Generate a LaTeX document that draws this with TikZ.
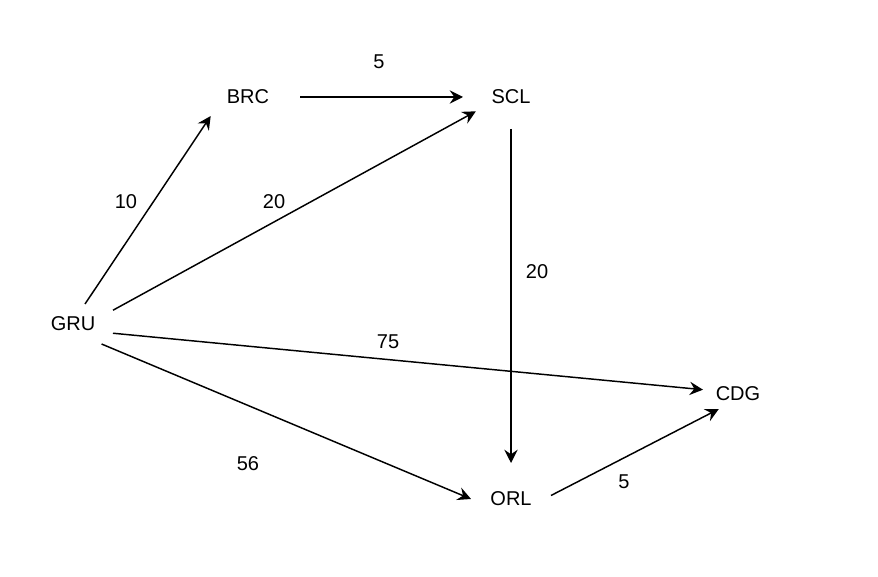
\documentclass[tikz,border=0pt]{standalone}
\usepackage{fontspec}
\setmainfont{Liberation Sans}
\usetikzlibrary{arrows.meta}
\tikzset{flightmap/.style={
  font=\fontsize{15}{17}\selectfont,
  airport/.style={draw=none, inner sep=0pt, outer sep=0pt},
  route/.style={-{Stealth[length=10pt, width=10pt, inset=3.5pt]}, line width=1.1pt},
  cost/.style={inner sep=1pt},
}}

\begin{document}
\begin{tikzpicture}[flightmap, x=0.75pt, y=-0.75pt]
\useasboundingbox (0,0) rectangle (878,577);
% =====================================================================
%  airports
% =====================================================================
\node[airport, minimum width=60pt, minimum height=30pt]   (GRU) at (73,324)  {GRU};
\node[airport, minimum width=78pt, minimum height=28.5pt] (BRC) at (248,97)  {BRC};
\node[airport, minimum width=72pt, minimum height=48pt]   (SCL) at (511,97)  {SCL};
\node[airport, minimum width=60pt, minimum height=54pt]   (ORL) at (511,499) {ORL};
\node[airport, minimum width=52.5pt, minimum height=22.5pt] (CDG) at (738,394) {CDG};

% =====================================================================
%  routes
% =====================================================================
\draw[route] (GRU.59)    -- (BRC.207.2);
\draw[route] (BRC.east)  -- (SCL.west);
\draw[route, shorten >=-11pt] (GRU.19.3) -- (SCL.204);
\draw[route] (SCL.south) -- (ORL.north);
\draw[route] (GRU.-13.5) -- (CDG.173.5);
\draw[route] (GRU.-35.5) -- (ORL.west);
\draw[route] (ORL.5)     -- (CDG.218.3);

% =====================================================================
%  fares
% =====================================================================
\node[cost] (cGRUBRC) at (126,202) {10};
\node[cost] (cBRCSCL) at (379,62)  {5};
\node[cost] (cGRUSCL) at (274,202) {20};
\node[cost] (cSCLORL) at (537,272) {20};
\node[cost] (cGRUCDG) at (388,342) {75};
\node[cost] (cGRUORL) at (248,464) {56};
\node[cost] (cORLCDG) at (624,482) {5};
\end{tikzpicture}
\end{document}
